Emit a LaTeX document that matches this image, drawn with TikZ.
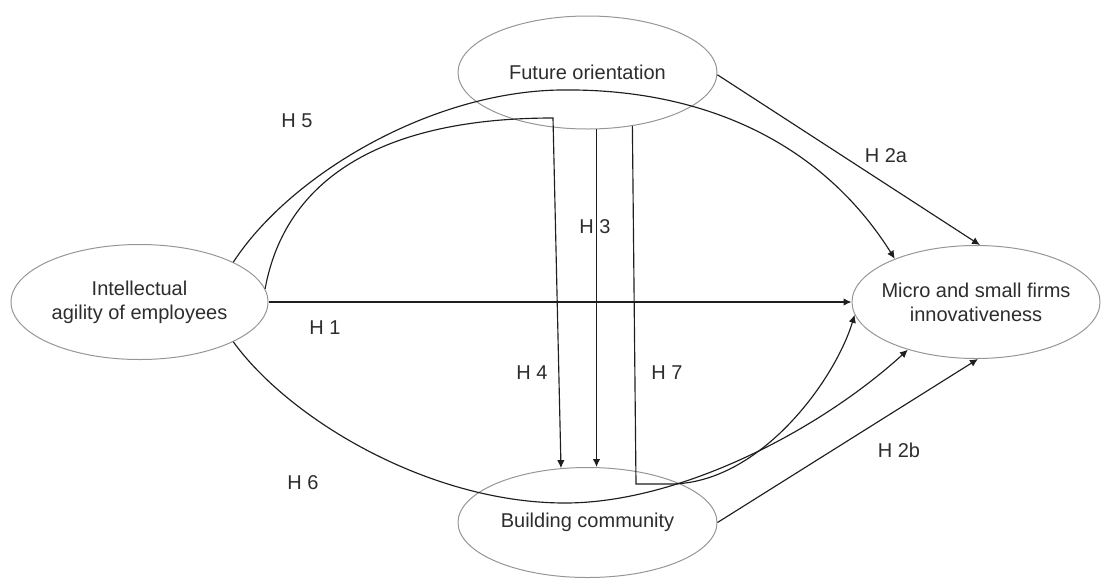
\documentclass[tikz,border=0pt]{standalone}
\usepackage{fontspec}
\setmainfont{Liberation Sans}
\usetikzlibrary{shapes.geometric,arrows.meta}
\definecolor{ellgray}{RGB}{150,150,150}
\definecolor{txtgray}{RGB}{45,45,45}
\definecolor{linegray}{RGB}{30,30,30}
\begin{document}
\begin{tikzpicture}[x=1pt,y=-1pt,
  ell/.style={ellipse,draw=ellgray,line width=1pt,inner sep=0pt},
  txt/.style={font=\fontsize{20}{24}\selectfont,text=txtgray,align=center},
  conn/.style={draw=linegray,line width=1.15pt},
  arr/.style={conn,-{Latex[length=8pt,width=7.5pt]}},
  hlab/.style={font=\fontsize{20}{24}\selectfont,text=txtgray,inner sep=0pt}]
\useasboundingbox (0,0) rectangle (1105,579);

% nodes
\node[ell,minimum width=257pt,minimum height=115pt,
  label={[txt]center:Intellectual\\agility of employees}] (ia) at (139.5,302) {};
\node[ell,minimum width=259pt,minimum height=113pt,
  label={[txt]center:Future orientation}] (fo) at (587.5,72.5) {};
\node[ell,minimum width=248pt,minimum height=113pt,
  label={[txt]center:Micro and small firms\\innovativeness}] (mi) at (976,302) {};
\node[ell,minimum width=259pt,minimum height=110pt,
  label={[txt]center:Building community}] (bc) at (587.5,522.5) {};

% helper coordinates
\coordinate (h4c) at (553,118);
\coordinate (h5t) at (560,90);
\coordinate (h6b) at (565,503);
\coordinate (h7c) at (636,484);
\coordinate (h7d) at (670,484);

% connectors
\draw[arr] (ia.east) -- (mi.west);                          % H1
\draw[arr] (fo.-1) -- (mi.86);                              % H2a
\draw[arr] (bc.east) -- (mi.-88);                           % H2b
\draw[arr] (fo.-81.4) -- (fo.-81.4 |- bc.north);            % H3
\draw[arr] (ia.6) .. controls (285,180) and (380,118) .. (h4c) -- (bc.116); % H4
\draw[arr] (ia.23.6) .. controls (290,175) and (430,92) .. (h5t)
           .. controls (700,88) and (820,140) .. (mi.152);  % H5
\draw[arr] (ia.-23.4) .. controls (290,420) and (430,503) .. (h6b)
           .. controls (680,503) and (820,430) .. (mi.215); % H6
\draw[arr] (fo.-50.7) -- (h7c) -- (h7d)
           .. controls (760,484) and (835,380) .. (mi.186); % H7

% labels
\node[hlab] (l1) at (325,328) {H 1};
\node[hlab] (l2a) at (886,156) {H 2a};
\node[hlab] (l2b) at (899,450) {H 2b};
\node[hlab] (l3) at (595,227) {H 3};
\node[hlab] (l4) at (532,373) {H 4};
\node[hlab] (l5) at (297,121) {H 5};
\node[hlab] (l6) at (303,483) {H 6};
\node[hlab] (l7) at (667,373) {H 7};
\end{tikzpicture}
\end{document}
